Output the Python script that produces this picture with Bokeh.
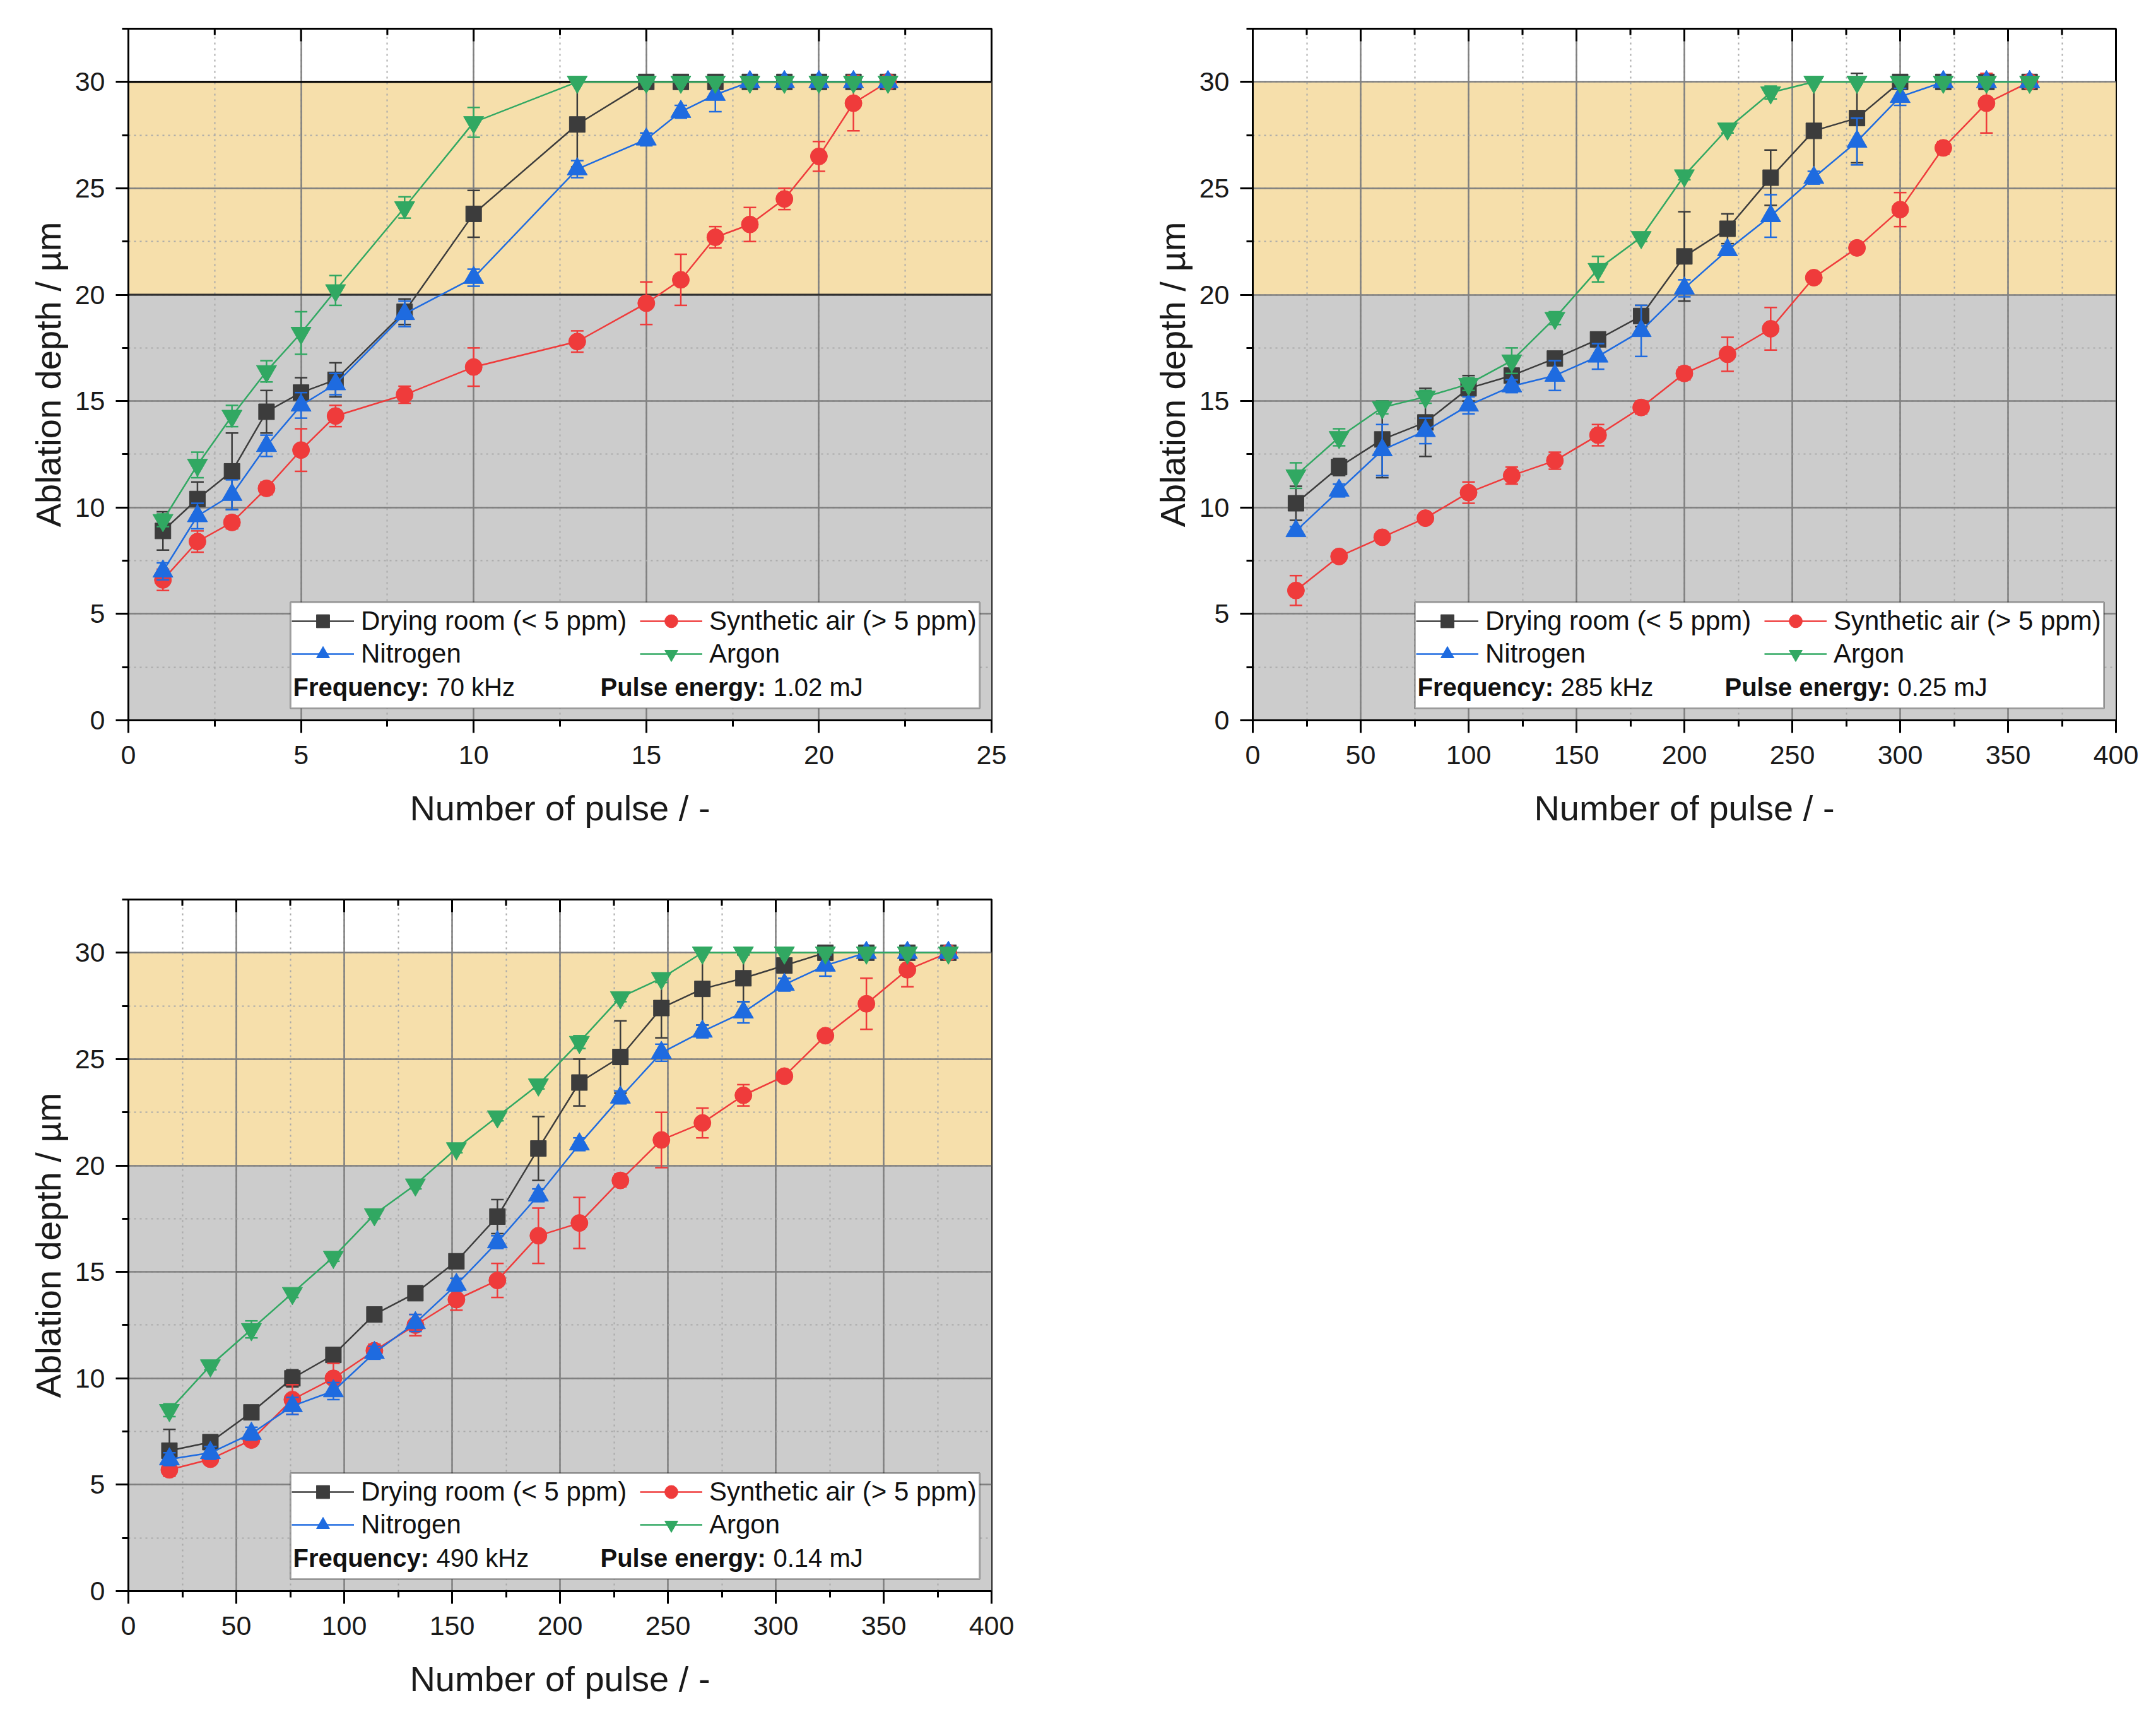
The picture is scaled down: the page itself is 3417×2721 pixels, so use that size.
import math

from bokeh.plotting import figure
from bokeh.models import (ColumnDataSource, BoxAnnotation, Span, Legend, LegendItem,
                          Label, SingleIntervalTicker, Range1d)
from bokeh.layouts import column, row
from bokeh.embed import file_html
from bokeh.resources import INLINE

FONT = "Liberation Sans"

series_names = ["Drying room (< 5 ppm)", "Synthetic air (> 5 ppm)", "Nitrogen", "Argon"]
colors = ["#3c3c3c", "#ef3b3b", "#1e6be0", "#31a862"]
markers = ["square", "circle", "triangle", "inverted_triangle"]
marker_sizes = [25, 27, 32, 32]

# shaded depth bands (µm)
band_low = [0, 20]
band_high = [20, 30]
band_colors = ["#cccccc", "#f6dfab"]

# ---- 70 kHz ----
pulses_70 = [1, 2, 3, 4, 5, 6, 8, 10, 13, 15, 16, 17, 18, 19, 20, 21, 22]
dry_70 = [8.9, 10.4, 11.7, 14.5, 15.4, 16.0, 19.2, 23.8, 28.0, 30, 30, 30, 30, 30, 30, 30, 30]
dry_70_err = [0.9, 0.8, 1.8, 1.0, 0.7, 0.8, 0.6, 1.1, 2.0, 0, 0, 0, 0, 0, 0, 0, 0]
air_70 = [6.6, 8.4, 9.3, 10.9, 12.7, 14.3, 15.3, 16.6, 17.8, 19.6, 20.7, 22.7, 23.3, 24.5, 26.5, 29.0, 30]
air_70_err = [0.5, 0.5, 0.3, 0.3, 1.0, 0.5, 0.4, 0.9, 0.5, 1.0, 1.2, 0.5, 0.8, 0.5, 0.7, 1.3, 0]
n2_70 = [7.0, 9.6, 10.6, 12.9, 14.8, 15.8, 19.1, 20.8, 25.9, 27.3, 28.6, 29.4, 30, 30, 30, 30, 30]
n2_70_err = [0.4, 0.6, 0.7, 0.5, 0.6, 0.5, 0.6, 0.4, 0.4, 0.3, 0.3, 0.8, 0, 0, 0, 0, 0]
ar_70 = [9.4, 12.0, 14.3, 16.4, 18.2, 20.2, 24.1, 28.1, 30, 30, 30, 30, 30, 30, 30, 30, 30]
ar_70_err = [0.3, 0.6, 0.5, 0.5, 1.0, 0.7, 0.5, 0.7, 0, 0, 0, 0, 0, 0, 0, 0, 0]

# ---- 285 kHz ----
pulses_285 = [20, 40, 60, 80, 100, 120, 140, 160, 180, 200, 220, 240, 260, 280, 300, 320, 340, 360]
dry_285 = [10.2, 11.9, 13.2, 14.0, 15.6, 16.2, 17.0, 17.9, 19.0, 21.8, 23.1, 25.5, 27.7, 28.3, 30, 30, 30, 30]
dry_285_err = [0.8, 0.4, 1.8, 1.6, 0.6, 0.7, 0.2, 0.3, 0.5, 2.1, 0.7, 1.3, 2.3, 2.1, 0, 0, 0, 0]
air_285 = [6.1, 7.7, 8.6, 9.5, 10.7, 11.5, 12.2, 13.4, 14.7, 16.3, 17.2, 18.4, 20.8, 22.2, 24.0, 26.9, 29.0, 30]
air_285_err = [0.7, 0.2, 0.2, 0.2, 0.5, 0.4, 0.4, 0.5, 0.3, 0.3, 0.8, 1.0, 0.2, 0.2, 0.8, 0.3, 1.4, 0]
n2_285 = [8.9, 10.8, 12.7, 13.6, 14.8, 15.7, 16.2, 17.1, 18.3, 20.3, 22.1, 23.7, 25.5, 27.2, 29.3, 30, 30, 30]
n2_285_err = [0.2, 0.3, 1.2, 0.6, 0.4, 0.3, 0.7, 0.6, 1.2, 0.4, 0.2, 1.0, 0.3, 1.1, 0.4, 0, 0, 0]
ar_285 = [11.5, 13.3, 14.7, 15.2, 15.8, 16.9, 18.9, 21.2, 22.7, 25.6, 27.8, 29.5, 30, 30, 30, 30, 30, 30]
ar_285_err = [0.6, 0.4, 0.3, 0.3, 0.3, 0.6, 0.3, 0.6, 0.2, 0.2, 0.2, 0.3, 0, 0, 0, 0, 0, 0]

# ---- 490 kHz ----
pulses_490 = [19, 38, 57, 76, 95, 114, 133, 152, 171, 190, 209, 228, 247, 266, 285, 304, 323, 342, 361, 380]
dry_490 = [6.6, 7.0, 8.4, 10.0, 11.1, 13.0, 14.0, 15.5, 17.6, 20.8, 23.9, 25.1, 27.4, 28.3, 28.8, 29.4, 30, 30, 30, 30]
dry_490_err = [1.0, 0.3, 0.3, 0.4, 0.3, 0.3, 0.3, 0.3, 0.8, 1.5, 1.1, 1.7, 1.4, 1.7, 1.1, 0.6, 0, 0, 0, 0]
air_490 = [5.7, 6.2, 7.1, 9.0, 10.0, 11.3, 12.5, 13.7, 14.6, 16.7, 17.3, 19.3, 21.2, 22.0, 23.3, 24.2, 26.1, 27.6, 29.2, 30]
air_490_err = [0.3, 0.2, 0.2, 0.7, 0.7, 0.3, 0.5, 0.5, 0.8, 1.3, 1.2, 0.3, 1.3, 0.7, 0.5, 0.2, 0.2, 1.2, 0.8, 0]
n2_490 = [6.2, 6.5, 7.4, 8.7, 9.4, 11.2, 12.6, 14.4, 16.4, 18.6, 21.0, 23.2, 25.3, 26.3, 27.2, 28.5, 29.4, 30, 30, 30]
n2_490_err = [0.3, 0.3, 0.3, 0.4, 0.4, 0.3, 0.4, 0.3, 0.3, 0.3, 0.3, 0.3, 0.4, 0.3, 0.5, 0.3, 0.5, 0, 0, 0]
ar_490 = [8.5, 10.6, 12.3, 14.0, 15.7, 17.7, 19.1, 20.8, 22.3, 23.8, 25.8, 27.9, 28.8, 30, 30, 30, 30, 30, 30, 30]
ar_490_err = [0.3, 0.2, 0.4, 0.2, 0.2, 0.2, 0.2, 0.2, 0.2, 0.2, 0.3, 0.2, 0.2, 0, 0, 0, 0, 0, 0, 0]

FRAME_W, FRAME_H = 1368, 1096
Y_MAX = 32.5
TXT = "#111111"


def style_axis(ax, ticker):
    ax.ticker = ticker
    ax.axis_line_width = 3
    ax.axis_line_color = "black"
    ax.major_tick_line_width = 3
    ax.minor_tick_line_width = 3
    ax.major_tick_line_color = "black"
    ax.minor_tick_line_color = "black"
    ax.major_tick_out = 20
    ax.major_tick_in = 0
    ax.minor_tick_out = 10
    ax.minor_tick_in = 0
    ax.major_label_text_font = FONT
    ax.major_label_text_font_size = "43px"
    ax.major_label_text_color = "#1a1a1a"
    ax.major_label_standoff = 17
    ax.axis_label_text_font = FONT
    ax.axis_label_text_font_size = "56px"
    ax.axis_label_text_font_style = "normal"
    ax.axis_label_text_color = "#1a1a1a"


def panel(xs, ys, errs, x_max, x_step, freq, energy, width, height, borders, dark_band_lines):
    left, right, top, bottom = borders
    p = figure(width=width, height=height, output_backend="svg", toolbar_location=None,
               x_range=Range1d(0, x_max), y_range=Range1d(0, Y_MAX),
               min_border_left=left, min_border_right=right,
               min_border_top=top, min_border_bottom=bottom,
               x_axis_label="Number of pulse / -", y_axis_label="Ablation depth / µm")
    p.background_fill_color = "white"
    p.border_fill_color = "white"
    p.outline_line_color = "black"
    p.outline_line_width = 3
    p.outline_line_alpha = 1

    xt = SingleIntervalTicker(interval=x_step, num_minor_ticks=2)
    yt = SingleIntervalTicker(interval=5, num_minor_ticks=2)
    style_axis(p.xaxis[0], xt)
    style_axis(p.yaxis[0], yt)
    p.xaxis[0].major_label_standoff = 20
    p.xaxis[0].axis_label_standoff = 35
    p.yaxis[0].axis_label_standoff = 8

    for g in (p.xgrid[0], p.ygrid[0]):
        g.grid_line_color = "#7f7f7f"
        g.grid_line_width = 2.5
        g.minor_grid_line_color = "#a9a9a9"
        g.minor_grid_line_width = 2
        g.minor_grid_line_dash = "3 6"
    p.xgrid[0].ticker = xt
    p.ygrid[0].ticker = yt

    for lo, hi, c in zip(band_low, band_high, band_colors):
        p.add_layout(BoxAnnotation(bottom=lo, top=hi, fill_color=c, fill_alpha=1,
                                   line_color=None, level="image"))
    if dark_band_lines:
        p.add_layout(Span(location=band_high[0], dimension="width", line_color="#303030",
                          line_width=3, level="underlay"))
        p.add_layout(Span(location=band_high[1], dimension="width", line_color="black",
                          line_width=3, level="underlay"))

    # inward tick marks along the top frame edge (half of each dash is clipped away)
    major_top = list(range(0, x_max + 1, x_step))
    minor_top = [t + x_step / 2 for t in major_top[:-1]]
    p.scatter(major_top, [Y_MAX] * len(major_top), marker="dash", angle=math.pi / 2,
              size=40, line_color="black", line_width=3)
    p.scatter(minor_top, [Y_MAX] * len(minor_top), marker="dash", angle=math.pi / 2,
              size=20, line_color="black", line_width=3)

    handles = []
    for name, y, e, c, m, s in zip(series_names, ys, errs, colors, markers, marker_sizes):
        src = ColumnDataSource(dict(x=xs, y=y))
        ex = [xi for xi, ei in zip(xs, e) if ei > 0]
        lo = [yi - ei for yi, ei in zip(y, e) if ei > 0]
        hi = [yi + ei for yi, ei in zip(y, e) if ei > 0]
        ln = p.line("x", "y", source=src, line_color=c, line_width=2.5)
        p.segment(ex, lo, ex, hi, line_color=c, line_width=2.5)
        p.scatter(ex, lo, marker="dash", size=20, line_color=c, line_width=2.5)
        p.scatter(ex, hi, marker="dash", size=20, line_color=c, line_width=2.5)
        sc = p.scatter("x", "y", source=src, marker=m, size=s, fill_color=c, line_color=c)
        handles.append((name, [ln, sc]))

    # frame pixel -> data helpers for the legend box
    def xd(px):
        return px / FRAME_W * x_max

    def yd(px):
        return px / FRAME_H * Y_MAX

    p.add_layout(BoxAnnotation(left=xd(257), right=xd(1349), bottom=yd(19), top=yd(187),
                               fill_color="white", fill_alpha=1, line_color="black",
                               line_width=3))
    order = [0, 2, 1, 3]
    legend = Legend(items=[LegendItem(label=handles[i][0], renderers=handles[i][1]) for i in order],
                    orientation="vertical", ncols=2, location=(259, 79),
                    padding=0, margin=0, spacing=0,
                    glyph_width=99, glyph_height=52, label_height=44, label_width=442,
                    label_standoff=11,
                    label_text_font=FONT, label_text_font_size="42px",
                    label_text_color=TXT,
                    border_line_alpha=0, background_fill_alpha=0)
    p.add_layout(legend)

    row_y = yd(53)
    p.add_layout(Label(x=xd(261), y=row_y, text="Frequency:", text_font=FONT,
                       text_font_size="40px", text_font_style="bold",
                       text_baseline="middle", text_color=TXT))
    p.add_layout(Label(x=xd(488), y=row_y, text=freq, text_font=FONT,
                       text_font_size="40px", text_baseline="middle", text_color=TXT))
    p.add_layout(Label(x=xd(748), y=row_y, text="Pulse energy:", text_font=FONT,
                       text_font_size="40px", text_font_style="bold",
                       text_baseline="middle", text_color=TXT))
    p.add_layout(Label(x=xd(1022), y=row_y, text=energy, text_font=FONT,
                       text_font_size="40px", text_baseline="middle", text_color=TXT))
    return p


p1 = panel(pulses_70, [dry_70, air_70, n2_70, ar_70],
           [dry_70_err, air_70_err, n2_70_err, ar_70_err],
           25, 5, "70 kHz", "1.02 mJ", 1775, 1385, (203, 204, 45, 244), True)
p2 = panel(pulses_285, [dry_285, air_285, n2_285, ar_285],
           [dry_285_err, air_285_err, n2_285_err, ar_285_err],
           400, 50, "285 kHz", "0.25 mJ", 1625, 1385, (210, 47, 45, 244), False)
p3 = panel(pulses_490, [dry_490, air_490, n2_490, ar_490],
           [dry_490_err, air_490_err, n2_490_err, ar_490_err],
           400, 50, "490 kHz", "0.14 mJ", 1775, 1314, (203, 204, 40, 178), False)

layout = column(row(p1, p2), p3)
open("out.html", "w").write(file_html(layout, INLINE))
